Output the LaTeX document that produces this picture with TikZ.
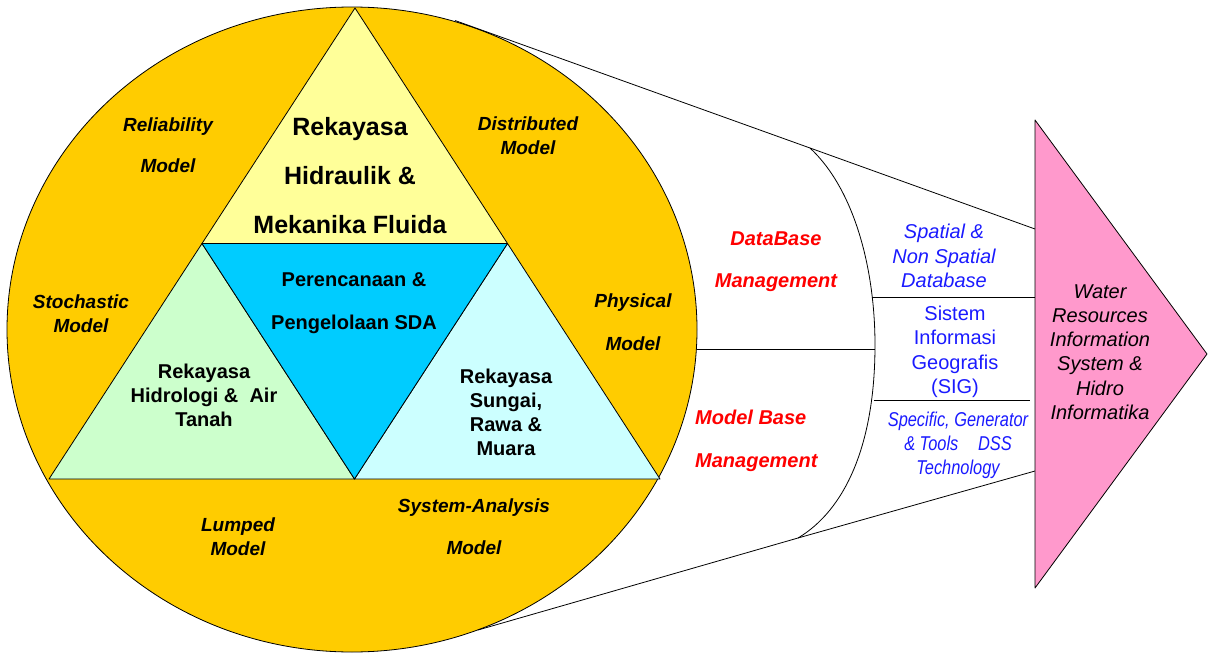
\documentclass[tikz,border=0pt]{standalone}
\usepackage{fontspec}
\setmainfont{Liberation Sans}
\definecolor{cgold}{HTML}{FFCC00}
\definecolor{ctop}{HTML}{FFFF99}
\definecolor{cmid}{HTML}{00CCFF}
\definecolor{cleft}{HTML}{CCFFCC}
\definecolor{cright}{HTML}{CCFFFF}
\definecolor{cpink}{HTML}{FF99CC}
\definecolor{cred}{HTML}{FF0000}
\definecolor{cblue}{HTML}{1A1AFF}
\begin{document}
\begin{tikzpicture}[x=1pt,y=-1pt,
  outl/.style={draw=black,line width=0.8pt,line join=round},
  conn/.style={draw=black,line width=0.8pt},
  modeltxt/.style={align=center,inner sep=0pt,font=\fontsize{19}{#1}\selectfont\bfseries\itshape},
  modeltxt/.default=24,
  tritxt/.style={align=center,inner sep=0pt,font=\fontsize{20}{#1}\selectfont\bfseries},
  tritxt/.default=24,
  redtxt/.style={inner sep=0pt,text=cred,font=\fontsize{20}{42.5}\selectfont\bfseries\itshape},
  bluetxt/.style={align=center,inner sep=0pt,text=cblue,font=\fontsize{20}{24.5}\selectfont},
  arrtxt/.style={align=center,inner sep=0pt,font=\fontsize{20}{24.2}\selectfont\itshape}]
\useasboundingbox (0,0) rectangle (1208,653);

% circle
\draw[outl,fill=cgold] (352,329.5) ellipse [x radius=345, y radius=322.5];

% triangles
\coordinate (T) at (355,8);
\coordinate (BL) at (49,479);
\coordinate (BR) at (660,479);
\coordinate (ML) at (202,243.5);
\coordinate (MR) at (507.5,243.5);
\coordinate (MB) at (354.5,479);
\filldraw[outl,fill=ctop] (T) -- (ML) -- (MR) -- cycle;
\filldraw[outl,fill=cleft] (ML) -- (BL) -- (MB) -- cycle;
\filldraw[outl,fill=cright] (MR) -- (MB) -- (BR) -- cycle;
\filldraw[outl,fill=cmid] (ML) -- (MR) -- (MB) -- cycle;

% funnel lines
\coordinate (U0) at (455,20.5);
\coordinate (U1) at (810,148);
\coordinate (U2) at (1035,229);
\coordinate (L0) at (478,630);
\coordinate (L1) at (798,538);
\coordinate (L2) at (1035,471);
\draw[conn] (U0) -- (U1) -- (U2);
\draw[conn] (L0) -- (L1) -- (L2);
\draw[conn] (U1) .. controls (855,190) and (875,270) .. (875,345)
   .. controls (875,445) and (845,510) .. (L1);

% arrow
\coordinate (A1) at (1035,120);
\coordinate (A2) at (1207,354);
\coordinate (A3) at (1035,588);
\filldraw[outl,fill=cpink] (A1) -- (A2) -- (A3) -- cycle;

% separator lines
\coordinate (H1a) at (871.5,297);
\coordinate (H1b) at (1035,297);
\coordinate (H2a) at (697,349);
\coordinate (H2b) at (875,349);
\coordinate (H3a) at (873.5,400);
\coordinate (H3b) at (1030,400);
\draw[conn] (H1a) -- (H1b);
\draw[conn] (H2a) -- (H2b);
\draw[conn] (H3a) -- (H3b);

% texts in the circle
\node[modeltxt=41] (rel) at (168,145) {Reliability\\Model};
\node[modeltxt] (dist) at (528,136) {Distributed\\Model};
\node[modeltxt] (stoch) at (81,314) {Stochastic\\Model};
\node[modeltxt=43] (phys) at (633,322.5) {Physical\\Model};
\node[modeltxt] (lump) at (238,536.5) {Lumped\\Model};
\node[modeltxt=42] (sysa) at (474,526.5) {System-Analysis\\Model};

% texts in triangles
\node[align=center,inner sep=0pt,font=\fontsize{25}{49}\selectfont\bfseries] (hid) at (350,176) {Rekayasa\\Hidraulik \&\\Mekanika Fluida};
\node[tritxt=43] (sda) at (354,303.5) {Perencanaan \&\\Pengelolaan SDA};
\node[tritxt] (hidro) at (204,395) {Rekayasa\\Hidrologi \&\ \ Air\\Tanah};
\node[tritxt] (sungai) at (506,412) {Rekayasa\\Sungai,\\Rawa \&\\Muara};

% management texts
\node[redtxt,align=center] (dbm) at (776,261.5) {DataBase\\Management};
\node[redtxt,align=left,anchor=west] (mbm) at (695,441) {Model Base\\Management};

% blue texts
\node[bluetxt,font=\fontsize{20}{24.5}\selectfont\itshape] (spat) at (944,256) {Spatial \&\\Non Spatial\\Database};
\node[bluetxt] (sig) at (955,352) {Sistem\\Informasi\\Geografis\\(SIG)};
\node[bluetxt,font=\fontsize{20}{24}\selectfont\itshape] (dss) at (958,445) {\scalebox{0.82}[1]{Specific, Generator}\\\scalebox{0.82}[1]{\& Tools\hspace{1.2em}DSS}\\\scalebox{0.82}[1]{Technology}};

% arrow text
\node[arrtxt] (wr) at (1100,352) {Water\\Resources\\Information\\System \&\\Hidro\\Informatika};
\end{tikzpicture}
\end{document}
